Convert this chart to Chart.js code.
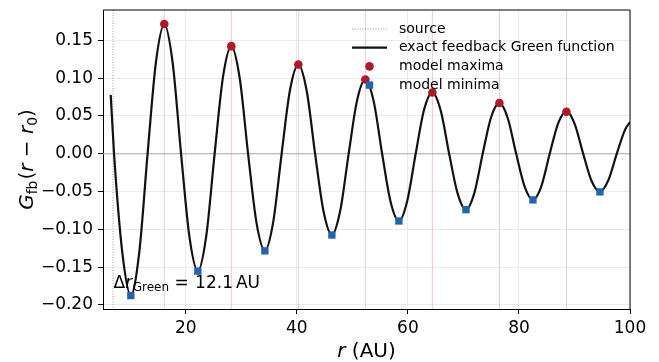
<!DOCTYPE html>
<html>
<head>
<meta charset="utf-8">
<script src="https://cdn.jsdelivr.net/npm/chart.js@4.4.1/dist/chart.umd.min.js"></script>
<style>
  html, body { margin: 0; padding: 0; background: #fff; }
  canvas { display: block; }
</style>
</head>
<body>
<canvas id="greenChart" width="659" height="362"></canvas>
<script>
// Exact feedback Green function, sampled by eye off the figure (r in AU)
var curveR = [6.48, 7.08, 8.59, 10.1, 11.61, 13.12, 14.62, 16.13, 17.64, 19.15,
              20.66, 22.17, 23.68, 25.19, 26.69, 28.2, 29.71, 31.22, 32.73, 34.24,
              35.75, 37.26, 38.76, 40.27, 41.78, 43.29, 44.8, 46.31, 47.82, 49.33,
              50.83, 52.34, 53.85, 55.36, 56.87, 58.38, 59.89, 61.4, 62.9, 64.41,
              65.92, 67.43, 68.94, 70.45, 71.96, 73.47, 74.97, 76.48, 77.99, 79.5,
              81.01, 82.52, 84.03, 85.54, 87.04, 88.55, 90.06, 91.57, 93.08, 94.59,
              96.1, 97.61, 99.12, 100];
var curveG = [0.078, 0, -0.132, -0.187, -0.131, 0, 0.121, 0.171, 0.120, 0,
              -0.110, -0.155, -0.109, 0, 0.101, 0.142, 0.100, 0, -0.091, -0.128,
              -0.090, 0, 0.084, 0.118, 0.083, 0, -0.076, -0.107, -0.075, 0,
              0.070, 0.098, 0.069, 0, -0.063, -0.089, -0.062, 0, 0.058, 0.081,
              0.057, 0, -0.052, -0.074, -0.052, 0, 0.048, 0.067, 0.047, 0,
              -0.043, -0.061, -0.043, 0, 0.040, 0.056, 0.039, 0, -0.036, -0.050,
              -0.035, 0, 0.032, 0.042];

// model extrema
var maxR = [16.13, 28.2, 40.27, 52.34, 64.41, 76.48, 88.55];
var maxG = [0.1716, 0.1424, 0.118, 0.0983, 0.081, 0.0671, 0.0557];
var minR = [10.1, 22.17, 34.24, 46.31, 58.38, 70.45, 82.52, 94.59];
var minG = [-0.1875, -0.1553, -0.1284, -0.1074, -0.0889, -0.0739, -0.061, -0.0504];

var sourceR = 6.9;
var greenSpacing = 12.1;

var xTicks = [20, 40, 60, 80, 100];
var yTicks = [-0.20, -0.15, -0.10, -0.05, 0.00, 0.05, 0.10, 0.15];
var legendLabels = ['source', 'exact feedback Green function', 'model maxima', 'model minima'];

var RED = '#b2182b';
var BLUE = '#2166ac';
var FONT = '"DejaVu Sans", sans-serif';

function toPoints(xs, ys) {
    return xs.map(function (x, i) { return { x: x, y: ys[i] }; });
}

// draw a run of text pieces one after another (for sub/italic bits)
function drawRich(ctx, x, y, parts) {
    parts.forEach(function (p) {
        ctx.font = p.font;
        ctx.fillText(p.t, x, y + (p.dy || 0));
        x += ctx.measureText(p.t).width + (p.gap || 0);
    });
}
function richWidth(ctx, parts) {
    var w = 0;
    parts.forEach(function (p) {
        ctx.font = p.font;
        w += ctx.measureText(p.t).width + (p.gap || 0);
    });
    return w;
}

var decor = {
    id: 'decor',
    beforeDatasetsDraw: function (chart) {
        var ctx = chart.ctx, a = chart.chartArea;
        var xs = chart.scales.x, ys = chart.scales.y;
        ctx.save();
        ctx.beginPath();
        ctx.rect(a.left, a.top, a.right - a.left, a.bottom - a.top);
        ctx.clip();

        // faint red lines at the model maxima
        ctx.strokeStyle = 'rgba(178,24,43,0.22)';
        ctx.lineWidth = 1;
        maxR.forEach(function (r) {
            var px = xs.getPixelForValue(r);
            ctx.beginPath(); ctx.moveTo(px, a.top); ctx.lineTo(px, a.bottom); ctx.stroke();
        });

        // zero line
        var y0 = ys.getPixelForValue(0);
        ctx.strokeStyle = '#ababab';
        ctx.lineWidth = 1;
        ctx.beginPath(); ctx.moveTo(a.left, y0); ctx.lineTo(a.right, y0); ctx.stroke();

        // source position
        var ps = xs.getPixelForValue(sourceR);
        ctx.strokeStyle = '#8c8c8c';
        ctx.lineWidth = 0.9;
        ctx.setLineDash([1, 1.6]);
        ctx.beginPath(); ctx.moveTo(ps, a.top); ctx.lineTo(ps, a.bottom); ctx.stroke();
        ctx.restore();
    },
    afterDraw: function (chart) {
        var ctx = chart.ctx, a = chart.chartArea;
        var xs = chart.scales.x, ys = chart.scales.y;
        ctx.save();

        // top and right spines
        ctx.strokeStyle = '#000';
        ctx.lineWidth = 1;
        ctx.beginPath();
        ctx.moveTo(a.left, a.top); ctx.lineTo(a.right, a.top); ctx.lineTo(a.right, a.bottom);
        ctx.stroke();

        ctx.fillStyle = '#000';
        ctx.textBaseline = 'alphabetic';
        ctx.textAlign = 'left';

        // spacing annotation
        var ax = xs.getPixelForValue(7.0), ay = ys.getPixelForValue(-0.177);
        drawRich(ctx, ax, ay, [
            { t: '\u0394', font: '17px ' + FONT },
            { t: 'r', font: 'italic 17px ' + FONT, gap: 0.5 },
            { t: 'Green', font: '12px ' + FONT, dy: 3 },
            { t: ' = ', font: '17px ' + FONT, gap: 1 },
            { t: greenSpacing.toFixed(1), font: '17px ' + FONT, gap: 3 },
            { t: 'AU', font: '17px ' + FONT }
        ]);

        // legend (no frame)
        var lx = a.left + 249, tx = a.left + 296, ly = a.top + 19, step = 18.7;
        ctx.font = '14px ' + FONT;
        ctx.textBaseline = 'middle';
        legendLabels.forEach(function (lab, i) {
            ctx.fillStyle = '#000';
            ctx.fillText(lab, tx, ly + i * step);
        });
        ctx.strokeStyle = '#9a9a9a';
        ctx.lineWidth = 1;
        ctx.setLineDash([1, 1.6]);
        ctx.beginPath(); ctx.moveTo(lx, ly); ctx.lineTo(lx + 35, ly); ctx.stroke();
        ctx.setLineDash([]);
        ctx.strokeStyle = '#111';
        ctx.lineWidth = 2.2;
        ctx.beginPath(); ctx.moveTo(lx, ly + step); ctx.lineTo(lx + 35, ly + step); ctx.stroke();
        ctx.fillStyle = RED;
        ctx.beginPath(); ctx.arc(lx + 17.5, ly + 2 * step, 4.3, 0, Math.PI * 2); ctx.fill();
        ctx.fillStyle = BLUE;
        ctx.fillRect(lx + 17.5 - 3.7, ly + 3 * step - 3.7, 7.4, 7.4);

        // axis titles
        ctx.fillStyle = '#000';
        ctx.textBaseline = 'alphabetic';
        var xl = [
            { t: 'r', font: 'italic 20px ' + FONT },
            { t: ' (AU)', font: '20px ' + FONT }
        ];
        drawRich(ctx, (a.left + a.right) / 2 - richWidth(ctx, xl) / 2, 357, xl);

        var yl = [
            { t: 'G', font: 'italic 20px ' + FONT },
            { t: 'fb', font: '14px ' + FONT, dy: 3.5, gap: 1 },
            { t: '(', font: '20px ' + FONT },
            { t: 'r', font: 'italic 20px ' + FONT },
            { t: ' \u2212 ', font: '20px ' + FONT },
            { t: 'r', font: 'italic 20px ' + FONT },
            { t: '0', font: '14px ' + FONT, dy: 3.5 },
            { t: ')', font: '20px ' + FONT }
        ];
        ctx.translate(33, (a.top + a.bottom) / 2);
        ctx.rotate(-Math.PI / 2);
        drawRich(ctx, -richWidth(ctx, yl) / 2, 0, yl);
        ctx.restore();
    }
};

document.addEventListener('DOMContentLoaded', function () {
    var ctx = document.getElementById('greenChart').getContext('2d');

    new Chart(ctx, {
        type: 'line',
        data: {
            datasets: [{
                label: legendLabels[2],
                data: toPoints(maxR, maxG),
                showLine: false,
                pointStyle: 'circle',
                pointRadius: 4.3,
                pointBackgroundColor: RED,
                pointBorderWidth: 0,
                order: 0
            }, {
                label: legendLabels[3],
                data: toPoints(minR, minG),
                showLine: false,
                pointStyle: 'rect',
                pointRadius: 5.2,
                pointBackgroundColor: BLUE,
                pointBorderWidth: 0,
                order: 0
            }, {
                label: legendLabels[1],
                data: toPoints(curveR, curveG),
                borderColor: '#111',
                borderWidth: 2.2,
                pointRadius: 0,
                cubicInterpolationMode: 'monotone',
                order: 1
            }]
        },
        options: {
            responsive: false,
            animation: false,
            devicePixelRatio: 1,
            events: [],
            layout: { padding: { top: 10, right: 29, left: 0, bottom: 0 } },
            plugins: { legend: { display: false }, tooltip: { enabled: false } },
            scales: {
                x: {
                    type: 'linear',
                    min: 5.09,
                    max: 100,
                    afterFit: function (s) {
                        s.height = 53;
                        s.paddingLeft = 0;
                        s.paddingRight = 0;
                    },
                    afterBuildTicks: function (s) {
                        s.ticks = xTicks.map(function (v) { return { value: v }; });
                    },
                    grid: { color: '#ebebeb', lineWidth: 1, tickColor: '#000', tickLength: 5, tickWidth: 1 },
                    border: { color: '#000', width: 1 },
                    ticks: {
                        color: '#000',
                        padding: 4,
                        maxRotation: 0,
                        font: { family: 'DejaVu Sans', size: 17 },
                        callback: function (v) { return String(v); }
                    }
                },
                y: {
                    type: 'linear',
                    min: -0.2053,
                    max: 0.1902,
                    afterFit: function (s) {
                        s.width = 103;
                        s.paddingTop = 0;
                        s.paddingBottom = 0;
                    },
                    afterBuildTicks: function (s) {
                        s.ticks = yTicks.map(function (v) { return { value: v }; });
                    },
                    grid: { color: '#ebebeb', lineWidth: 1, tickColor: '#000', tickLength: 5, tickWidth: 1 },
                    border: { color: '#000', width: 1 },
                    ticks: {
                        color: '#000',
                        padding: 5,
                        font: { family: 'DejaVu Sans', size: 17 },
                        callback: function (v) { return v.toFixed(2).replace('-', '\u2212'); }
                    }
                }
            }
        },
        plugins: [decor]
    });
});
</script>
</body>
</html>
